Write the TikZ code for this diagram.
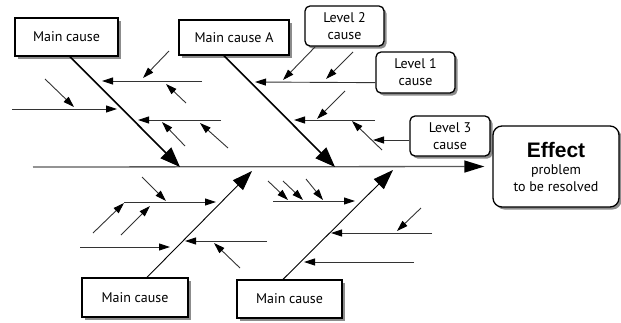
\documentclass[tikz,border=0pt]{standalone}
\usepackage{fontspec}
\setmainfont{PT Sans}
\newfontfamily\efffont{Liberation Sans}
\usetikzlibrary{arrows.meta,shadows,calc}
\begin{document}
\begin{tikzpicture}[x=1pt,y=-1pt,
  box/.style={draw=black, line width=1.3pt, fill=white, inner sep=0pt, align=center,
     font=\fontsize{14}{17}\selectfont,
     drop shadow={shadow xshift=2.5pt, shadow yshift=-2.5pt, fill=black!45, opacity=1}},
  rbox/.style={box, rounded corners=5pt},
  bone/.style={line width=1.6pt, -{Triangle[length=20pt,width=15pt]}},
  lbone/.style={line width=0.9pt, -{Triangle[length=20pt,width=14pt]}},
  sub/.style={line width=0.9pt, draw=black!80, -{Triangle[length=11pt,width=7pt,color=black]}},
  spine/.style={line width=1.3pt, draw=black!65, -{Triangle[length=20pt,width=12pt,color=black]}}
]
\useasboundingbox (0,0) rectangle (621,322);

% boxes
\node[box, minimum width=103pt, minimum height=38pt] (mc1) at (66.5,37) {Main cause};
\node[box, minimum width=110pt, minimum height=35pt] (mcA) at (234,37.5) {Main cause A};
\node[box, minimum width=106pt, minimum height=39pt] (mc3) at (135,297.5) {Main cause};
\node[box, minimum width=105pt, minimum height=38pt] (mc4) at (289.5,299) {Main cause};
\node[rbox, minimum width=79pt, minimum height=40pt] (l2) at (344.5,26) {Level 2\\cause};
\node[rbox, minimum width=79pt, minimum height=41pt] (l1) at (415.5,72.5) {Level 1\\cause};
\node[rbox, minimum width=80pt, minimum height=40pt] (l3) at (450,136) {Level 3\\cause};
\node[box, rounded corners=9pt, minimum width=126pt, minimum height=81pt] (eff) at (556,166.5)
  {{\efffont\bfseries\fontsize{21}{22}\selectfont Effect}\\problem\\to be resolved};

% spine
\coordinate (sp0) at (33,167);
\draw[spine, shorten >=8pt] (sp0) -- (eff.west);

% main bones
\coordinate (t1) at (180,167);
\coordinate (t2) at (335,167);
\coordinate (t3) at (252,171);
\coordinate (t4) at (393,170);
\draw[bone] ($(mc1.south)+(3.5,0)$) -- (t1);
\draw[bone] ($(mcA.south)+(-10,0)$) -- (t2);
\draw[lbone] ($(mc3.north)+(12,0)$) -- (t3);
\draw[lbone] ($(mc4.north)+(-6.5,0)$) -- (t4);

% upper-left causes
\draw[sub] (202,81) -- (102,81);
\draw[sub] (169,51) -- (143,78);
\draw[sub] (186,103) -- (166,84);
\draw[sub] (12,109) -- (117,109);
\draw[sub] (45,79) -- (74,107);
\draw[sub] (221,120) -- (138,120);
\draw[sub] (185,146) -- (162,122);
\draw[sub] (228,148) -- (200,123);

% upper-right causes
\draw[sub] ($(l1.south west)+(0,-11)$) -- (255,82);
\draw[sub] ($(l2.south west)+(11,0)$) -- (283,80);
\draw[sub] (353,52) -- (326,79);
\draw[sub] (375,120) -- (294,120);
\draw[sub] (345,91) -- (317,119);
\draw[sub] (382,150) -- (352,121);
\draw[sub] ($(l3.west)+(0,4)$) -- (373,140);

% lower-left causes
\draw[sub] (124,202) -- (216,202);
\draw[sub] (142,177) -- (166,201);
\draw[sub] (93,233) -- (124,203);
\draw[sub] (121,235) -- (150,206);
\draw[sub] (80,247) -- (170,247);
\draw[sub] (267,241) -- (185,241);
\draw[sub] (240,268) -- (214,243);

% lower-right causes
\draw[sub] (273,201) -- (355,201);
\draw[sub] (268,181) -- (288,200);
\draw[sub] (283,181) -- (303,200);
\draw[sub] (306,179) -- (323,200);
\draw[sub] (432,233) -- (331,233);
\draw[sub] (421,208) -- (397,231);
\draw[sub] (414,262) -- (304,262);
\end{tikzpicture}
\end{document}
